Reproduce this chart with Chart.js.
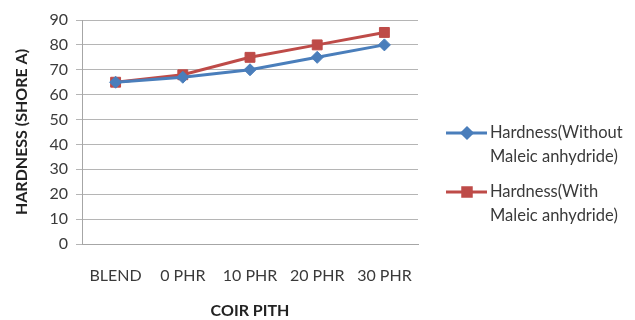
<!DOCTYPE html>
<html>
<head>
<meta charset="utf-8">
<script src="https://cdn.jsdelivr.net/npm/chart.js@4"></script>
<style>
  html, body { margin: 0; padding: 0; background: #fff; }
  #wrap { width: 635px; height: 320px; position: relative; }
</style>
</head>
<body>
<div id="wrap"><canvas id="hardnessChart" width="635" height="320"></canvas></div>
<script>
const categories = ["BLEND", "0 PHR", "10 PHR", "20 PHR", "30 PHR"];
const withoutMA = [65, 67, 70, 75, 80];
const withMA = [65, 68, 75, 80, 85];
const seriesLabels = [
  ["Hardness(Without", "Maleic anhydride)"],
  ["Hardness(With", "Maleic anhydride)"]
];
const yTicks = [0, 10, 20, 30, 40, 50, 60, 70, 80, 90];

const BLUE = "#4a7ebb";
const RED = "#be4b48";
const TEXT = "#3a3a3a";
const FONT = "Lato, 'Open Sans', sans-serif";

// legend drawn by hand so the labels can wrap onto two lines like the original
const sideLegend = {
  id: "sideLegend",
  afterDraw(chart) {
    const ctx = chart.ctx;
    const entries = [
      { y: 133, color: BLUE, style: "rectRot", size: 5 },
      { y: 192, color: RED, style: "rect", size: 6 }
    ];
    ctx.save();
    entries.forEach((e, i) => {
      ctx.strokeStyle = e.color;
      ctx.lineWidth = 3;
      ctx.beginPath();
      ctx.moveTo(446, e.y);
      ctx.lineTo(487, e.y);
      ctx.stroke();
      ctx.fillStyle = e.color;
      ctx.strokeStyle = e.color;
      Chart.helpers.drawPoint(ctx, { pointStyle: e.style, radius: e.size, rotation: 0, borderWidth: 1 }, 467, e.y);
      ctx.fillStyle = TEXT;
      ctx.font = "16.5px " + FONT;
      ctx.textBaseline = "middle";
      ctx.textAlign = "left";
      seriesLabels[i].forEach((line, j) => ctx.fillText(line, 490, e.y + j * 23.5));
    });
    ctx.restore();
  }
};

new Chart(document.getElementById("hardnessChart"), {
  type: "line",
  data: {
    labels: categories,
    datasets: [
      {
        label: seriesLabels[0].join(" "),
        data: withoutMA,
        borderColor: BLUE,
        backgroundColor: BLUE,
        borderWidth: 3,
        pointStyle: "rectRot",
        pointRadius: 6,
        pointBorderWidth: 1,
        tension: 0
      },
      {
        label: seriesLabels[1].join(" "),
        data: withMA,
        borderColor: RED,
        backgroundColor: RED,
        borderWidth: 3,
        pointStyle: "rect",
        pointRadius: 7,
        pointBorderWidth: 1,
        tension: 0
      }
    ]
  },
  options: {
    responsive: false,
    animation: false,
    layout: { padding: { top: 20, right: 217, left: 12, bottom: 0 } },
    plugins: {
      legend: { display: false },
      tooltip: { enabled: false }
    },
    scales: {
      x: {
        offset: true,
        grid: { display: false, drawTicks: false },
        border: { display: true, color: "#a6a6a6", width: 1 },
        ticks: { color: TEXT, font: { family: FONT, size: 16 }, padding: 22, maxRotation: 0 },
        title: { display: true, text: "COIR PITH", color: "#222", font: { family: FONT, size: 16, weight: "bold" }, padding: { top: 12, bottom: 0 } },
        afterFit(scale) { scale.height = 76; }
      },
      y: {
        min: 0,
        max: 90,
        afterBuildTicks(scale) { scale.ticks = yTicks.map(v => ({ value: v })); },
        grid: { color: "#b5b5b5", lineWidth: 1, tickLength: 6 },
        border: { display: true, color: "#a6a6a6", width: 1 },
        ticks: { color: TEXT, font: { family: FONT, size: 16 }, padding: 8 },
        title: { display: true, text: "HARDNESS (SHORE A)", color: "#222", font: { family: FONT, size: 16, weight: "bold" }, padding: { top: 0, bottom: 6 } },
        afterFit(scale) { scale.width = 70; }
      }
    }
  },
  plugins: [sideLegend]
});
</script>
</body>
</html>
